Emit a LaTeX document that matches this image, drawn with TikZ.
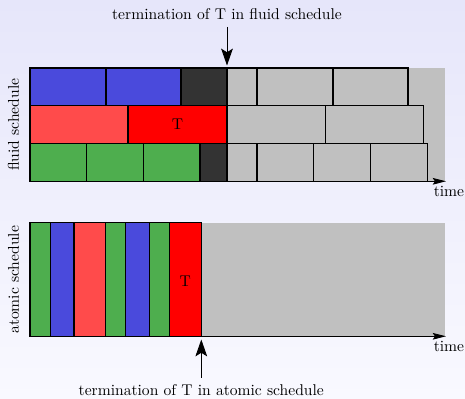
\documentclass[tikz,border=0pt]{standalone}
\usetikzlibrary{arrows.meta}
\definecolor{bgtop}{RGB}{230,230,250}
\definecolor{bgbot}{RGB}{249,249,255}
\definecolor{cblue}{RGB}{74,74,220}
\definecolor{clred}{RGB}{255,75,75}
\definecolor{cred}{RGB}{255,0,0}
\definecolor{cgreen}{RGB}{78,174,78}
\definecolor{cdark}{RGB}{51,51,51}
\definecolor{cgray}{RGB}{192,192,192}
\tikzset{
  slot/.style={draw=black, line width=0.8pt},
  idle/.style={fill=cgray},
  axisline/.style={line width=0.6pt, -{Stealth[length=9pt,width=4.5pt,inset=1.5pt]}},
  pointer/.style={line width=0.6pt, -{Stealth[length=11.5pt,width=8pt,inset=2.5pt]}},
  lbl/.style={inner sep=1pt},
}
\begin{document}
\begin{tikzpicture}[x=0.68pt,y=-0.68pt,font=\fontsize{10.6}{12.7}\selectfont]
\shade[top color=bgtop,bottom color=bgbot] (0,0) rectangle (465,399);
\useasboundingbox (0,0) rectangle (465,399);
% ---------------- fluid schedule ----------------
\fill[cgray] (30,68) rectangle (445,181);
% row 1
\draw[slot,fill=cblue] (30,68) rectangle (106,105.7);
\draw[slot,fill=cblue] (106,68) rectangle (181,105.7);
\draw[slot,fill=cdark] (181,68) rectangle (227,105.7);
\draw[slot,idle] (227,68) rectangle (257,105.7);
\draw[slot,idle] (257,68) rectangle (333,105.7);
\draw[slot,idle] (333,68) rectangle (408,105.7);
% row 2
\draw[slot,fill=clred] (30,105.7) rectangle (128,143.7);
\draw[slot,fill=cred] (128,105.7) rectangle (227,143.7);
\node[lbl] (tf) at (177.5,124.7) {T};
\draw[slot,idle] (227,105.7) rectangle (325.3,143.7);
\draw[slot,idle] (325.3,105.7) rectangle (423.3,143.7);
% row 3
\draw[slot,fill=cgreen] (30,143.7) rectangle (86.7,181.3);
\draw[slot,fill=cgreen] (86.7,143.7) rectangle (143.7,181.3);
\draw[slot,fill=cgreen] (143.7,143.7) rectangle (200,181.3);
\draw[slot,fill=cdark] (200,143.7) rectangle (227,181.3);
\draw[slot,idle] (227,143.7) rectangle (257,181.3);
\draw[slot,idle] (257,143.7) rectangle (313.7,181.3);
\draw[slot,idle] (313.7,143.7) rectangle (370.7,181.3);
\draw[slot,idle] (370.7,143.7) rectangle (427.5,181.3);
% axis
\coordinate (fo) at (30,181.3);
\coordinate (fe) at (446,181.3);
\draw[axisline] (fo) -- (fe);
\node[lbl,anchor=north] (ft) at (449,184) {time};
\node[rotate=90] (fl) at (13.5,124.8) {fluid schedule};
% pointer
\node[lbl] (ftxt) at (227,14) {termination of T in fluid schedule};
\coordinate (fend) at (227,65.5);
\draw[pointer] (227,27) -- (fend);
% ---------------- atomic schedule ----------------
\fill[cgray] (30,222.7) rectangle (445,336.3);
\draw[slot,fill=cgreen] (30,222.7) rectangle (50.3,336.3);
\draw[slot,fill=cblue] (50.3,222.7) rectangle (74,336.3);
\draw[slot,fill=clred] (74,222.7) rectangle (105.7,336.3);
\draw[slot,fill=cgreen] (105.7,222.7) rectangle (125.7,336.3);
\draw[slot,fill=cblue] (125.7,222.7) rectangle (149.3,336.3);
\draw[slot,fill=cgreen] (149.3,222.7) rectangle (169.3,336.3);
\draw[slot,fill=cred] (169.3,222.7) rectangle (201.3,336.3);
\node[lbl] (ta) at (185.3,281.5) {T};
\coordinate (ao) at (30,336.3);
\coordinate (ae) at (446,336.3);
\draw[axisline] (ao) -- (ae);
\node[lbl,anchor=north] (at) at (449,339) {time};
\node[rotate=90] (al) at (13.5,279.8) {atomic schedule};
\node[lbl] (atxt) at (201.3,390) {termination of T in atomic schedule};
\coordinate (aend) at (201.3,339.5);
\draw[pointer] (201.3,378) -- (aend);
\end{tikzpicture}
\end{document}
